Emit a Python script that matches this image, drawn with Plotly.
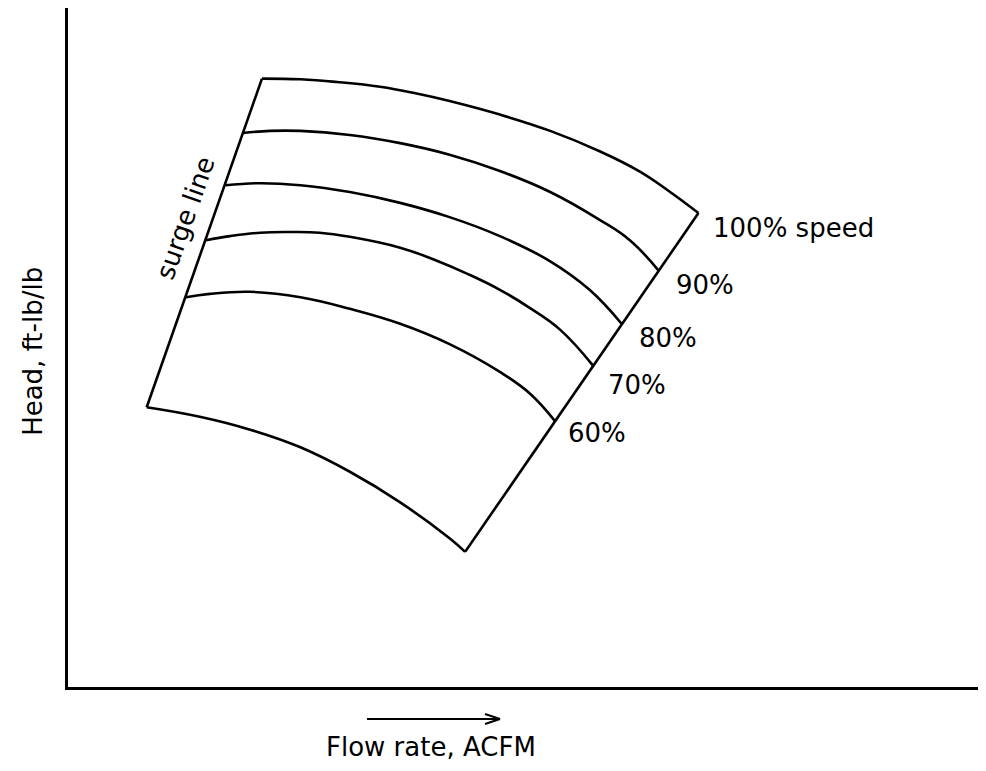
import plotly.graph_objects as go

# Schematic compressor map (arbitrary units: flow 0-100, head 0-100)
flow_100 = [21.2, 25.4, 29.4, 34.1, 38.1, 41.7, 47.2, 52.7, 58.1, 62.5, 65.8, 68.9]
head_100 = [89.6, 89.5, 89.1, 88.4, 87.4, 86.3, 84.3, 81.9, 78.9, 75.9, 72.9, 69.8]

flow_90 = [19.1, 22.1, 25.4, 30.8, 36.3, 41.7, 47.2, 52.7, 58.1, 61.4, 64.5]
head_90 = [81.6, 81.9, 81.9, 81.3, 80.1, 78.4, 76.0, 72.9, 68.8, 65.8, 61.4]

flow_80 = [17.2, 21.0, 25.4, 30.8, 36.3, 41.7, 47.2, 52.7, 57.0, 60.5]
head_80 = [73.9, 74.2, 73.9, 72.9, 71.3, 69.2, 66.4, 62.7, 58.5, 53.5]

flow_70 = [15.1, 17.7, 21.0, 24.3, 27.5, 30.8, 36.3, 39.9, 43.9, 47.2, 50.5, 53.8, 57.4]
head_70 = [65.8, 66.4, 66.9, 67.0, 66.9, 66.3, 64.7, 63.0, 60.7, 58.5, 55.8, 52.6, 47.3]

flow_60 = [12.9, 15.5, 19.9, 25.4, 30.8, 36.3, 41.7, 47.2, 50.5, 53.2]
head_60 = [57.4, 57.9, 58.2, 57.4, 55.7, 53.5, 50.5, 46.4, 43.2, 39.2]

flow_low = [8.6, 14.4, 19.9, 25.4, 30.8, 36.3, 41.7, 43.4]
head_low = [41.2, 39.8, 37.9, 35.3, 31.7, 27.2, 21.9, 19.9]

flow_surge = [8.6, 21.2]
head_surge = [41.2, 89.6]

flow_stone = [43.4, 68.9]
head_stone = [19.9, 69.8]

speed_labels = ["100% speed", "90%", "80%", "70%", "60%"]
label_flow = [70.3, 66.2, 62.2, 58.8, 54.4]
label_head = [67.6, 59.2, 51.4, 44.5, 37.4]

FONT = "DejaVu Sans"
FS = 26
LW = 2.6

fig = go.Figure()
for fx, hy in [(flow_100, head_100), (flow_90, head_90), (flow_80, head_80),
               (flow_70, head_70), (flow_60, head_60), (flow_low, head_low)]:
    fig.add_trace(go.Scatter(x=fx, y=hy, mode="lines",
                             line=dict(color="black", width=LW, shape="spline", smoothing=1.2),
                             hoverinfo="skip", showlegend=False))
for fx, hy in [(flow_surge, head_surge), (flow_stone, head_stone)]:
    fig.add_trace(go.Scatter(x=fx, y=hy, mode="lines",
                             line=dict(color="black", width=LW),
                             hoverinfo="skip", showlegend=False))

for t, lx, ly in zip(speed_labels, label_flow, label_head):
    fig.add_annotation(x=lx, y=ly, text=t, showarrow=False, xanchor="left", yanchor="middle",
                       font=dict(family=FONT, size=FS, color="black"))

fig.add_annotation(x=12.8, y=69.1, text="surge line", showarrow=False, textangle=-70.6,
                   xanchor="center", yanchor="middle",
                   font=dict(family=FONT, size=FS, color="black"))

# axis titles
fig.add_annotation(xref="paper", yref="paper", x=-0.0385, y=0.495, text="Head, ft-lb/lb",
                   textangle=-90, showarrow=False, xanchor="center", yanchor="middle",
                   font=dict(family=FONT, size=FS, color="black"))
fig.add_annotation(xref="paper", yref="paper", x=0.399, y=-0.0885, text="Flow rate, ACFM",
                   showarrow=False, xanchor="center", yanchor="middle", borderpad=0,
                   font=dict(family=FONT, size=FS, color="black"))

# direction arrow under the x axis (open chevron head)
ax_tip, ay_tip = 0.4747, -0.0471
for (x0, y0, x1, y1) in [(-133, 0, 0, 0), (-15, 5, 0, 0), (-15, -5, 0, 0)]:
    fig.add_shape(type="line", xref="paper", yref="paper", xsizemode="pixel", ysizemode="pixel",
                  xanchor=ax_tip, yanchor=ay_tip, x0=x0, y0=y0, x1=x1, y1=y1,
                  line=dict(color="black", width=2))

fig.update_xaxes(range=[0, 99.45], showline=True, linecolor="black", linewidth=3,
                 showgrid=False, zeroline=False, showticklabels=False, ticks="")
fig.update_yaxes(range=[0, 100], showline=True, linecolor="black", linewidth=3,
                 showgrid=False, zeroline=False, showticklabels=False, ticks="")

fig.update_layout(width=970, height=755, margin=dict(l=60, r=0, t=0, b=76),
                  plot_bgcolor="white", paper_bgcolor="white", showlegend=False)

fig.write_html("out.html")
